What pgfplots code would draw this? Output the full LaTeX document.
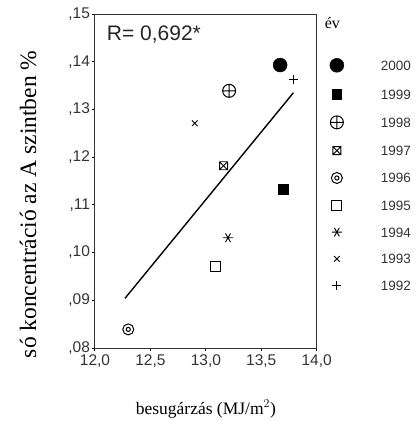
\documentclass[border=0pt]{standalone}
\usepackage{fontspec}
\setmainfont{Liberation Serif}
\newfontfamily\arial{Liberation Sans}
\usepackage{pgfplots}
\pgfplotsset{compat=1.18}
\pgfdeclareplotmark{boxx}{%
 \pgfpathrectangle{\pgfpoint{-\pgfplotmarksize}{-\pgfplotmarksize}}{\pgfpoint{2\pgfplotmarksize}{2\pgfplotmarksize}}%
 \pgfpathmoveto{\pgfpoint{-\pgfplotmarksize}{-\pgfplotmarksize}}\pgfpathlineto{\pgfpoint{\pgfplotmarksize}{\pgfplotmarksize}}%
 \pgfpathmoveto{\pgfpoint{-\pgfplotmarksize}{\pgfplotmarksize}}\pgfpathlineto{\pgfpoint{\pgfplotmarksize}{-\pgfplotmarksize}}%
 \pgfusepathqstroke}
\pgfdeclareplotmark{bullseye}{%
 \pgfpathcircle{\pgfpointorigin}{\pgfplotmarksize}\pgfusepathqstroke
 \pgfpathcircle{\pgfpointorigin}{0.38\pgfplotmarksize}\pgfusepathqstroke}
\begin{document}
\begin{tikzpicture}
\useasboundingbox (-95pt,-73pt) rectangle (322pt,348pt);
\begin{axis}[
  at={(0,0)}, anchor=south west,
  scale only axis, width=221.7pt, height=334pt,
  xmin=12, xmax=14, ymin=0.08, ymax=0.15,
  xtick={12,12.5,13,13.5,14},
  xticklabels={{12,0},{12,5},{13,0},{13,5},{14,0}},
  ytick={0.08,0.09,0.10,0.11,0.12,0.13,0.14,0.15},
  yticklabels={{,08},{,09},{,10},{,11},{,12},{,13},{,14},{,15}},
  tick style={black, line width=1pt},
  tick align=outside, major tick length=3pt,
  xtick pos=bottom, ytick pos=left,
  axis line style={black!80, line width=1pt},
  ticklabel style={font=\arial\fontsize{15.5}{15.5}\selectfont, text=black!80},
  yticklabel style={xshift=1.5pt},
  xticklabel style={yshift=0pt},
  xlabel={besugárzás (MJ/m$^{2}$)},
  xlabel style={font=\fontsize{17.5}{18}\selectfont, at={(axis description cs:0.5,0)}, anchor=center, yshift=-61pt},
  ylabel={só koncentráció az A szintben \%},
  ylabel style={font=\fontsize{23.5}{24}\selectfont, at={(axis description cs:-0.302,0.43)}, anchor=center},
  legend style={draw=none, fill=none, at={(rel axis cs:1.045,0.874)}, anchor=north west,
    font=\arial\fontsize{13.5}{13.5}\selectfont, text=black!80,
    row sep=16.8pt,
    nodes={inner sep=0pt, text height=10pt, text depth=0pt},
    /tikz/every odd column/.append style={column sep=37pt}},
  legend cell align=left,
  clip=false,
]
\addplot[only marks, mark=*, mark size=7pt, black] coordinates {(13.67,0.1393)};
\addlegendentry{2000}
\addplot[only marks, mark=square*, mark size=4.8pt, black] coordinates {(13.70,0.1133)};
\addlegendentry{1999}
\addplot[only marks, mark=oplus, mark size=6.5pt, black, line width=1pt] coordinates {(13.21,0.1339)};
\addlegendentry{1998}
\addplot[only marks, mark=boxx, mark size=4pt, black, line width=0.9pt] coordinates {(13.16,0.1182)};
\addlegendentry{1997}
\addplot[only marks, mark=bullseye, mark size=5.5pt, black, line width=1pt] coordinates {(12.30,0.0839)};
\addlegendentry{1996}
\addplot[only marks, mark=square, mark size=5pt, black, line width=1.1pt] coordinates {(13.09,0.0970)};
\addlegendentry{1995}
\addplot[only marks, mark=asterisk, mark size=5pt, black, line width=0.9pt, mark options={rotate=90}] coordinates {(13.20,0.1031)};
\addlegendentry{1994}
\addplot[only marks, mark=x, mark size=4pt, black, line width=1pt] coordinates {(12.90,0.1271)};
\addlegendentry{1993}
\addplot[only marks, mark=+, mark size=4.5pt, black, line width=1pt] coordinates {(13.79,0.1362)};
\addlegendentry{1992}
\addplot[black, line width=1.4pt, forget plot] coordinates {(12.27,0.0904) (13.79,0.1335)};
\node[anchor=west, inner sep=0pt, font=\arial\fontsize{21}{21}\selectfont, text=black!85] at (rel axis cs:0.053,0.939) {R= 0,692*};
\node[anchor=west, inner sep=0pt, font=\fontsize{16}{16}\selectfont] at (rel axis cs:1.036,0.973) {év};
\end{axis}
\end{tikzpicture}
\end{document}
